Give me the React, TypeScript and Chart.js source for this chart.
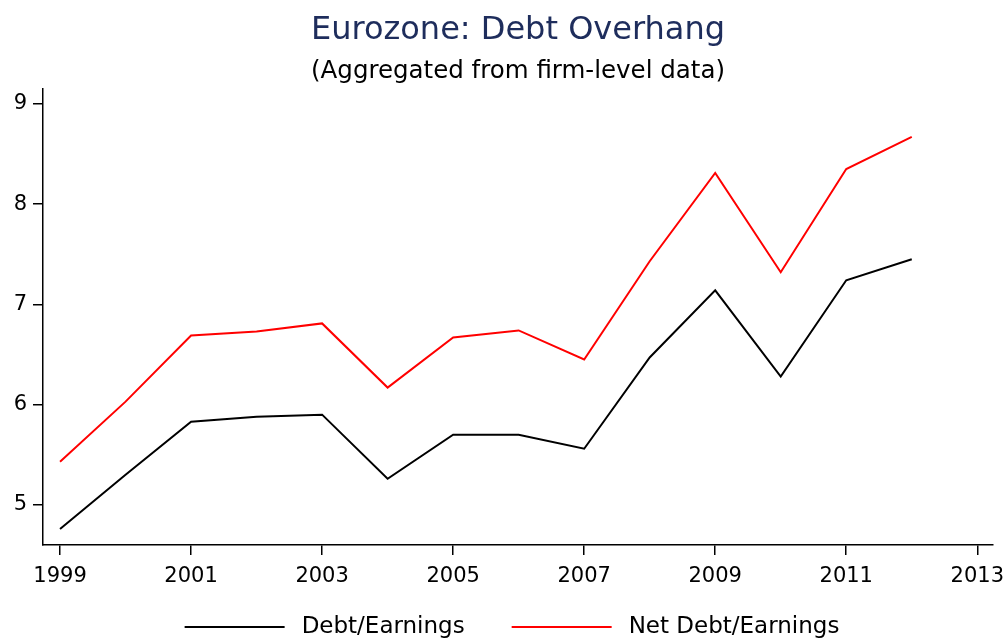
import { useEffect, useRef } from 'react';
import { Chart, registerables } from 'chart.js';

Chart.register(...registerables);

const years = [1999, 2000, 2001, 2002, 2003, 2004, 2005, 2006, 2007, 2008, 2009, 2010, 2011, 2012];
const debtEarnings = [4.76, 5.30, 5.83, 5.88, 5.90, 5.26, 5.70, 5.70, 5.56, 6.47, 7.14, 6.28, 7.24, 7.45];
const netDebtEarnings = [5.43, 6.03, 6.69, 6.73, 6.81, 6.17, 6.67, 6.74, 6.45, 7.43, 8.31, 7.32, 8.35, 8.67];
const xTicks = [1999, 2001, 2003, 2005, 2007, 2009, 2011, 2013];
const yTicks = [5, 6, 7, 8, 9];

const FONT = "'DejaVu Sans', sans-serif";

const bottomLegend = {
  id: 'bottomLegend',
  afterDraw(chart: any) {
    const ctx = chart.ctx as CanvasRenderingContext2D;
    const items = chart.data.datasets.map((d: any) => ({ label: d.label as string, color: d.borderColor as string }));
    const lineLen = 100;
    const gapText = 17;
    const gapItems = 47;
    const centerX = 512;
    const y = 627;
    ctx.save();
    ctx.font = `23px ${FONT}`;
    const widths = items.map((it: any) => ctx.measureText(it.label).width);
    let total = 0;
    widths.forEach((w: number, i: number) => {
      total += lineLen + gapText + w + (i < widths.length - 1 ? gapItems : 0);
    });
    let x = centerX - total / 2;
    items.forEach((it: any, i: number) => {
      ctx.strokeStyle = it.color;
      ctx.lineWidth = 2;
      ctx.beginPath();
      ctx.moveTo(x, y);
      ctx.lineTo(x + lineLen, y);
      ctx.stroke();
      x += lineLen + gapText;
      ctx.fillStyle = '#000000';
      ctx.textAlign = 'left';
      ctx.textBaseline = 'middle';
      ctx.fillText(it.label, x, y);
      x += widths[i] + gapItems;
    });
    ctx.restore();
  },
};

export default function App() {
  const ref = useRef<HTMLCanvasElement | null>(null);

  useEffect(() => {
    const canvas = ref.current;
    if (!canvas) return;
    const chart = new Chart(canvas, {
      type: 'line',
      data: {
        datasets: [
          {
            label: 'Debt/Earnings',
            data: years.map((x, i) => ({ x, y: debtEarnings[i] })),
            borderColor: '#000000',
            backgroundColor: '#000000',
            borderWidth: 2,
            pointRadius: 0,
            tension: 0,
          },
          {
            label: 'Net Debt/Earnings',
            data: years.map((x, i) => ({ x, y: netDebtEarnings[i] })),
            borderColor: '#ff0000',
            backgroundColor: '#ff0000',
            borderWidth: 2,
            pointRadius: 0,
            tension: 0,
          },
        ],
      },
      options: {
        responsive: false,
        animation: false,
        layout: { padding: { left: 0, right: 15, top: 11, bottom: 48 } },
        plugins: {
          title: {
            display: true,
            fullSize: false,
            text: 'Eurozone: Debt Overhang',
            color: '#1e2d5c',
            font: { family: FONT, size: 32, weight: 'normal' },
            padding: { top: 0, bottom: 8 },
          },
          subtitle: {
            display: true,
            fullSize: false,
            text: '(Aggregated from firm-level data)',
            color: '#000000',
            font: { family: FONT, size: 24.5, weight: 'normal' },
            padding: { top: 0, bottom: 2 },
          },
          legend: { display: false },
          tooltip: { enabled: false },
        },
        scales: {
          x: {
            type: 'linear',
            min: 1998.74,
            max: 2013.24,
            afterBuildTicks: (scale: any) => {
              scale.ticks = xTicks.map((v) => ({ value: v }));
            },
            afterFit: (scale: any) => {
              scale.height = 50;
              scale.paddingLeft = 0;
              scale.paddingRight = 0;
            },
            ticks: {
              color: '#000000',
              font: { family: FONT, size: 21 },
              autoSkip: false,
              maxRotation: 0,
              padding: 9,
              callback: (v: any) => String(v),
            },
            grid: {
              drawOnChartArea: false,
              drawTicks: true,
              tickLength: 10,
              color: '#000000',
              lineWidth: 1.5,
            },
            border: { display: true, color: '#000000', width: 1.5 },
          },
          y: {
            type: 'linear',
            min: 4.6,
            max: 9.15,
            afterBuildTicks: (scale: any) => {
              scale.ticks = yTicks.map((v) => ({ value: v }));
            },
            afterFit: (scale: any) => {
              scale.width = 43;
            },
            ticks: {
              color: '#000000',
              font: { family: FONT, size: 21 },
              padding: 6,
              callback: (v: any) => String(v),
            },
            grid: {
              drawOnChartArea: false,
              drawTicks: true,
              tickLength: 10,
              color: '#000000',
              lineWidth: 1.5,
            },
            border: { display: true, color: '#000000', width: 1.5 },
          },
        },
      },
      plugins: [bottomLegend],
    });
    return () => chart.destroy();
  }, []);

  return (
    <div style={{ position: 'absolute', left: 0, top: 0, width: 1008, height: 643, background: '#ffffff' }}>
      <canvas ref={ref} width={1008} height={643} />
    </div>
  );
}
